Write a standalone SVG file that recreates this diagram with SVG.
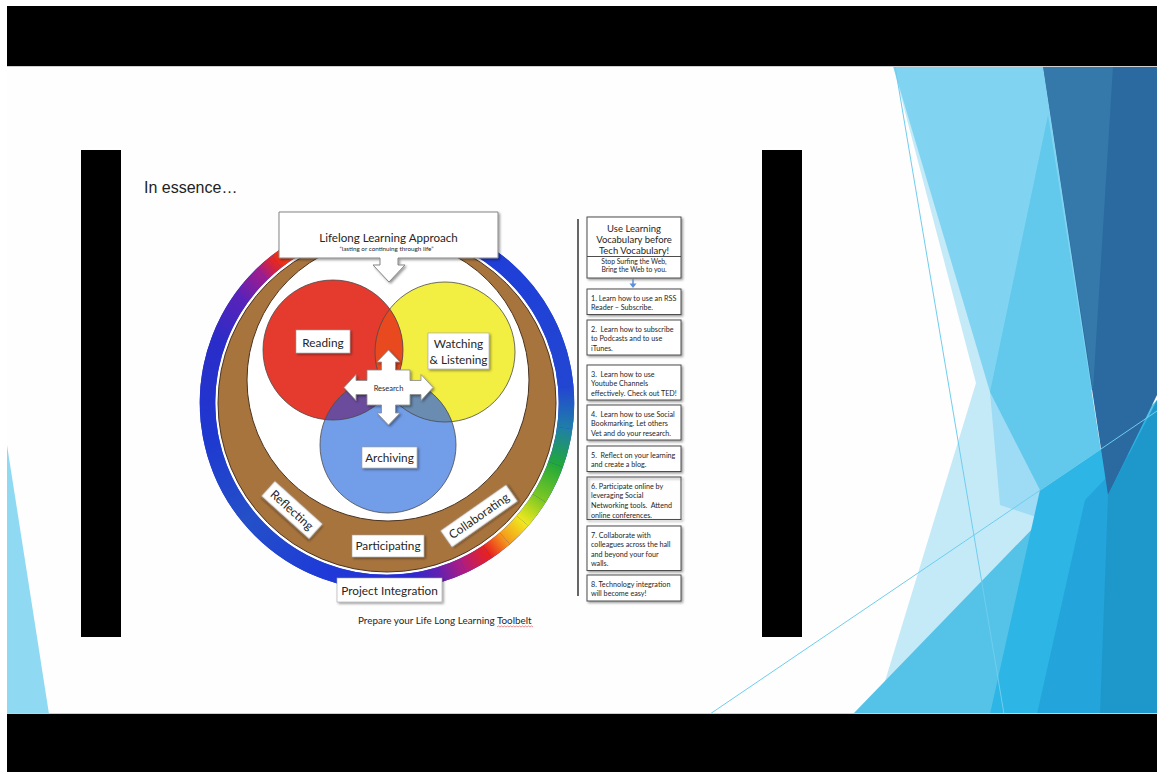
<svg xmlns="http://www.w3.org/2000/svg" width="1157" height="772" viewBox="0 0 1157 772">
<defs>
<style>
.t{font-family:Lato,"Noto Sans",sans-serif;fill:#262626}
.c{text-anchor:middle}
.box{fill:#fff;stroke:#4d4d4d;stroke-width:1}
.lb{fill:#fff;stroke:#a0a0a0;stroke-width:0.6}
.rb{fill:none;stroke-width:15.5}
.ol{fill:none;stroke:#4a4a4a;stroke-width:0.8}
.s{font-size:7.2px}
.v{font-size:11.8px}
</style>
<filter id="sh" x="-10%" y="-10%" width="130%" height="150%"><feDropShadow dx="1.5" dy="1.5" stdDeviation="0.9" flood-color="#000" flood-opacity="0.4"/></filter>
<clipPath id="cpY"><circle cx="445" cy="352" r="70"/></clipPath>
<clipPath id="cpB"><circle cx="388" cy="445" r="68"/></clipPath>
<linearGradient id="g0" gradientUnits="userSpaceOnUse" x1="387" y1="223.5" x2="502.38" y2="265.5"><stop offset="0" stop-color="#2a2fc8"/><stop offset="1" stop-color="#1f3fd8"/></linearGradient>
<linearGradient id="g1" gradientUnits="userSpaceOnUse" x1="502.38" y1="265.5" x2="565.82" y2="387.35"><stop offset="0" stop-color="#1f3fd8"/><stop offset="1" stop-color="#2246d2"/></linearGradient>
<linearGradient id="g2" gradientUnits="userSpaceOnUse" x1="565.82" y1="387.35" x2="564.75" y2="427.98"><stop offset="0" stop-color="#2246d2"/><stop offset="1" stop-color="#1f7fa8"/></linearGradient>
<linearGradient id="g3" gradientUnits="userSpaceOnUse" x1="564.75" y1="427.98" x2="555.68" y2="464.39"><stop offset="0" stop-color="#1f7fa8"/><stop offset="1" stop-color="#22a83a"/></linearGradient>
<linearGradient id="g4" gradientUnits="userSpaceOnUse" x1="555.68" y1="464.39" x2="539.22" y2="498.12"><stop offset="0" stop-color="#22a83a"/><stop offset="1" stop-color="#7cc823"/></linearGradient>
<linearGradient id="g5" gradientUnits="userSpaceOnUse" x1="539.22" y1="498.12" x2="522.47" y2="520.77"><stop offset="0" stop-color="#7cc823"/><stop offset="1" stop-color="#f0e81e"/></linearGradient>
<linearGradient id="g6" gradientUnits="userSpaceOnUse" x1="522.47" y1="520.77" x2="504.77" y2="538.47"><stop offset="0" stop-color="#f0e81e"/><stop offset="1" stop-color="#f59a1c"/></linearGradient>
<linearGradient id="g7" gradientUnits="userSpaceOnUse" x1="504.77" y1="538.47" x2="487.38" y2="551.81"><stop offset="0" stop-color="#f59a1c"/><stop offset="1" stop-color="#e8221e"/></linearGradient>
<linearGradient id="g8" gradientUnits="userSpaceOnUse" x1="487.38" y1="551.81" x2="462.86" y2="565.68"><stop offset="0" stop-color="#e8221e"/><stop offset="1" stop-color="#b01c80"/></linearGradient>
<linearGradient id="g9" gradientUnits="userSpaceOnUse" x1="462.86" y1="565.68" x2="439.49" y2="574.66"><stop offset="0" stop-color="#b01c80"/><stop offset="1" stop-color="#6420b0"/></linearGradient>
<linearGradient id="g10" gradientUnits="userSpaceOnUse" x1="439.49" y1="574.66" x2="411.98" y2="580.76"><stop offset="0" stop-color="#6420b0"/><stop offset="1" stop-color="#2b2ad0"/></linearGradient>
<linearGradient id="g11" gradientUnits="userSpaceOnUse" x1="411.98" y1="580.76" x2="325.61" y2="571.68"><stop offset="0" stop-color="#2b2ad0"/><stop offset="1" stop-color="#1e3ad8"/></linearGradient>
<linearGradient id="g12" gradientUnits="userSpaceOnUse" x1="325.61" y1="571.68" x2="249.5" y2="518.38"><stop offset="0" stop-color="#1e3ad8"/><stop offset="1" stop-color="#2450c8"/></linearGradient>
<linearGradient id="g13" gradientUnits="userSpaceOnUse" x1="249.5" y1="518.38" x2="210.23" y2="434.16"><stop offset="0" stop-color="#2450c8"/><stop offset="1" stop-color="#1e38d0"/></linearGradient>
<linearGradient id="g14" gradientUnits="userSpaceOnUse" x1="210.23" y1="434.16" x2="218.32" y2="341.61"><stop offset="0" stop-color="#1e38d0"/><stop offset="1" stop-color="#2a2cc8"/></linearGradient>
<linearGradient id="g15" gradientUnits="userSpaceOnUse" x1="218.32" y1="341.61" x2="241.78" y2="297.49"><stop offset="0" stop-color="#2a2cc8"/><stop offset="1" stop-color="#5a22b8"/></linearGradient>
<linearGradient id="g16" gradientUnits="userSpaceOnUse" x1="241.78" y1="297.49" x2="262.3" y2="273.89"><stop offset="0" stop-color="#5a22b8"/><stop offset="1" stop-color="#a01c8c"/></linearGradient>
<linearGradient id="g17" gradientUnits="userSpaceOnUse" x1="262.3" y1="273.89" x2="276.48" y2="261.55"><stop offset="0" stop-color="#a01c8c"/><stop offset="1" stop-color="#e8281c"/></linearGradient>
<linearGradient id="g18" gradientUnits="userSpaceOnUse" x1="276.48" y1="261.55" x2="297.25" y2="247.55"><stop offset="0" stop-color="#e8281c"/><stop offset="1" stop-color="#f05a14"/></linearGradient>
<linearGradient id="g19" gradientUnits="userSpaceOnUse" x1="297.25" y1="247.55" x2="387" y2="223.5"><stop offset="0" stop-color="#f05a14"/><stop offset="1" stop-color="#2a2fc8"/></linearGradient>
</defs>

<!-- slide background -->
<g id="background">
<rect width="1157" height="772" fill="#fff"/>
<rect x="7" y="66" width="1150" height="648" fill="#fefefe"/>
<polygon points="893,66 1000,66 1045,490 990,714 875,714 976,383" fill="#c4eaf8"/>
<polygon points="893,66 1043,66 1093,390 990,392" fill="#80d4f2"/>
<polygon points="990,392 1060,420 1045,520 1000,505" fill="#9ddcf4"/>
<polygon points="1048,115 1108,495 1040,490 990,392" fill="#62c8ec"/>
<polygon points="853,714 1157,400 1157,714" fill="#55c3e8"/>
<polygon points="990,714 1040,490 1157,411 1157,714" fill="#2db5e6"/>
<polygon points="1037,714 1085,500 1157,425 1157,714" fill="#23a5dc"/>
<polygon points="1043,66 1157,66 1157,395 1108,495" fill="#2a6aa0"/>
<polygon points="1043,66 1113,66 1093,390" fill="#3479a9"/>
<polygon points="1100,714 1108,495 1157,400 1157,714" fill="#1e98cb"/>
<line x1="895" y1="66" x2="1004" y2="714" stroke="#6fcdee" stroke-width="1"/>
<line x1="710" y1="714" x2="1157" y2="411" stroke="#6fcdee" stroke-width="1"/>
<polygon points="7,445 49,714 7,714" fill="#8fd9f2"/>
<rect x="7" y="6" width="1150" height="60" fill="#000"/>
<rect x="7" y="714" width="1150" height="58" fill="#000"/>
<line x1="7" y1="66.5" x2="1157" y2="66.5" stroke="#cfcfcf" stroke-width="1"/>
<line x1="7" y1="713.5" x2="1157" y2="713.5" stroke="#cfcfcf" stroke-width="1"/>
<rect x="81" y="150" width="40" height="487" fill="#000"/>
<rect x="762" y="150" width="40" height="487" fill="#000"/>
</g>

<text class="t" x="144" y="193" style="font-family:'Liberation Sans',Arial,sans-serif;font-size:16px;fill:#222">In essence…</text>

<!-- rainbow ring -->
<g id="rainbow">
<circle cx="387" cy="403" r="179.5" class="rb" stroke="#2238d0"/>
<path class="rb" stroke="url(#g0)" d="M387,223.5 A179.5,179.5 0 0 1 502.38,265.5"/>
<path class="rb" stroke="url(#g1)" d="M502.38,265.5 A179.5,179.5 0 0 1 565.82,387.35"/>
<path class="rb" stroke="url(#g2)" d="M565.82,387.35 A179.5,179.5 0 0 1 564.75,427.98"/>
<path class="rb" stroke="url(#g3)" d="M564.75,427.98 A179.5,179.5 0 0 1 555.68,464.39"/>
<path class="rb" stroke="url(#g4)" d="M555.68,464.39 A179.5,179.5 0 0 1 539.22,498.12"/>
<path class="rb" stroke="url(#g5)" d="M539.22,498.12 A179.5,179.5 0 0 1 522.47,520.77"/>
<path class="rb" stroke="url(#g6)" d="M522.47,520.77 A179.5,179.5 0 0 1 504.77,538.47"/>
<path class="rb" stroke="url(#g7)" d="M504.77,538.47 A179.5,179.5 0 0 1 487.38,551.81"/>
<path class="rb" stroke="url(#g8)" d="M487.38,551.81 A179.5,179.5 0 0 1 462.86,565.68"/>
<path class="rb" stroke="url(#g9)" d="M462.86,565.68 A179.5,179.5 0 0 1 439.49,574.66"/>
<path class="rb" stroke="url(#g10)" d="M439.49,574.66 A179.5,179.5 0 0 1 411.98,580.76"/>
<path class="rb" stroke="url(#g11)" d="M411.98,580.76 A179.5,179.5 0 0 1 325.61,571.68"/>
<path class="rb" stroke="url(#g12)" d="M325.61,571.68 A179.5,179.5 0 0 1 249.5,518.38"/>
<path class="rb" stroke="url(#g13)" d="M249.5,518.38 A179.5,179.5 0 0 1 210.23,434.16"/>
<path class="rb" stroke="url(#g14)" d="M210.23,434.16 A179.5,179.5 0 0 1 218.32,341.61"/>
<path class="rb" stroke="url(#g15)" d="M218.32,341.61 A179.5,179.5 0 0 1 241.78,297.49"/>
<path class="rb" stroke="url(#g16)" d="M241.78,297.49 A179.5,179.5 0 0 1 262.3,273.89"/>
<path class="rb" stroke="url(#g17)" d="M262.3,273.89 A179.5,179.5 0 0 1 276.48,261.55"/>
<path class="rb" stroke="url(#g18)" d="M276.48,261.55 A179.5,179.5 0 0 1 297.25,247.55"/>
<path class="rb" stroke="url(#g19)" d="M297.25,247.55 A179.5,179.5 0 0 1 387,223.5"/>
</g>

<!-- brown ring and inner white -->
<g id="ring">
<circle cx="387" cy="403" r="169" fill="#a8743e" stroke="#4a3420" stroke-width="1"/>
<circle cx="388" cy="380" r="141" fill="#fff" stroke="#4a3420" stroke-width="1"/>
</g>

<!-- Venn -->
<g id="venn">
<circle cx="445" cy="352" r="70" fill="#f2ee42"/>
<circle cx="333" cy="350" r="70" fill="#e53b2f"/>
<circle cx="333" cy="350" r="70" fill="#e8491f" clip-path="url(#cpY)"/>
<circle cx="388" cy="445" r="68" fill="#729de8"/>
<circle cx="333" cy="350" r="70" fill="#6b4b9c" clip-path="url(#cpB)"/>
<circle cx="445" cy="352" r="70" fill="#6a8cb0" clip-path="url(#cpB)"/>
<circle cx="445" cy="352" r="70" class="ol"/>
<circle cx="333" cy="350" r="70" class="ol"/>
<circle cx="388" cy="445" r="68" class="ol"/>
</g>

<g id="reading">
<rect x="296" y="330" width="54" height="23" class="lb" filter="url(#sh)"/>
<text class="t c v" x="323" y="346.5">Reading</text>
</g>
<g id="watching">
<rect x="428" y="333" width="61" height="36" class="lb" filter="url(#sh)"/>
<text class="t c v" x="458.5" y="348">Watching</text>
<text class="t c v" x="458.5" y="364">&amp; Listening</text>
</g>
<g id="archiving">
<rect x="362" y="447" width="55" height="21" class="lb" filter="url(#sh)"/>
<text class="t c v" x="389.5" y="462">Archiving</text>
</g>
<g id="research">
<polygon points="388.5,350 400,362 395.5,362 395.5,370 410,370 410,380.5 421,380.5 421,374.5 433,387.5 421,400.5 421,394.5 410,394.5 410,405 395.5,405 395.5,413 400,413 388.5,425 377,413 381.5,413 381.5,405 367,405 367,394.5 356,394.5 356,400.5 344,387.5 356,374.5 356,380.5 367,380.5 367,370 381.5,370 381.5,362 377,362" fill="#fff" stroke="#8a8a8a" stroke-width="0.8" filter="url(#sh)"/>
<text class="t c" x="388.5" y="390.7" style="font-size:7.5px">Research</text>
</g>

<g id="reflecting" transform="translate(292,510) rotate(42)">
<rect x="-32" y="-10" width="64" height="20" class="lb" filter="url(#sh)"/>
<text class="t c" x="0" y="4.2" style="font-size:12px">Reflecting</text>
</g>
<g id="collaborating" transform="translate(479,516) rotate(-35)">
<rect x="-40" y="-10" width="80" height="20" class="lb" filter="url(#sh)"/>
<text class="t c" x="0" y="4.2" style="font-size:12px">Collaborating</text>
</g>
<g id="participating">
<rect x="352" y="535" width="72" height="22" class="lb" filter="url(#sh)"/>
<text class="t c v" x="388" y="550">Participating</text>
</g>
<g id="project-integration">
<rect x="337" y="578" width="105" height="24" class="lb" filter="url(#sh)"/>
<text class="t c v" x="389.5" y="594.5">Project Integration</text>
</g>

<g id="lifelong">
<path d="M279,212 H498 V258 H398 V265 H405 L389,282 L373,265 H380 V258 H279 Z" fill="#fff" stroke="#858585" stroke-width="1" filter="url(#sh)"/>
<text class="t c" x="388.5" y="241.7" style="font-size:11.6px">Lifelong Learning Approach</text>
<text class="t c" x="386.5" y="251" style="font-size:6.3px">“lasting or continuing through life”</text>
</g>

<g id="caption">
<text class="t" x="358" y="624" style="font-size:9.9px">Prepare your Life Long Learning Toolbelt</text>
<path d="M497,627 l1.5,-1 l1.5,1 l1.5,-1 l1.5,1 l1.5,-1 l1.5,1 l1.5,-1 l1.5,1 l1.5,-1 l1.5,1 l1.5,-1 l1.5,1 l1.5,-1 l1.5,1 l1.5,-1 l1.5,1 l1.5,-1 l1.5,1 l1.5,-1 l1.5,1 l1.5,-1 l1.5,1 l1.5,-1 l1.5,1" fill="none" stroke="#e06060" stroke-width="0.7"/>
</g>

<!-- right column -->
<g id="box0">
<rect x="587" y="217" width="94" height="61" class="box" filter="url(#sh)"/>
<line x1="587" y1="256.5" x2="681" y2="256.5" stroke="#4d4d4d" stroke-width="1"/>
<text class="t c" x="634" y="231.5" style="font-size:9.5px">Use Learning</text>
<text class="t c" x="634" y="242.5" style="font-size:9.5px">Vocabulary before</text>
<text class="t c" x="634" y="253.5" style="font-size:9.5px">Tech Vocabulary!</text>
<text class="t c" x="634" y="263.5" style="font-size:6.8px">Stop Surfing the Web,</text>
<text class="t c" x="634" y="272" style="font-size:6.8px">Bring the Web to you.</text>
</g>
<g id="box1">
<rect x="587" y="289" width="94" height="25.5" class="box" filter="url(#sh)"/>
<text class="t s" x="591" y="300.5">1. Learn how to use an RSS</text>
<text class="t s" x="591" y="310">Reader – Subscribe.</text>
</g>
<g id="box2">
<rect x="587" y="320" width="94" height="35" class="box" filter="url(#sh)"/>
<text class="t s" x="591" y="331.5">2.&#160; Learn how to subscribe</text>
<text class="t s" x="591" y="341">to Podcasts and to use</text>
<text class="t s" x="591" y="350.5">iTunes.</text>
</g>
<g id="box3">
<rect x="587" y="365" width="94" height="35" class="box" filter="url(#sh)"/>
<text class="t s" x="591" y="376.5">3.&#160; Learn how to use</text>
<text class="t s" x="591" y="386">Youtube Channels</text>
<text class="t s" x="591" y="395.5">effectively. Check out TED!</text>
</g>
<g id="box4">
<rect x="587" y="405" width="94" height="35" class="box" filter="url(#sh)"/>
<text class="t s" x="591" y="416.5">4.&#160; Learn how to use Social</text>
<text class="t s" x="591" y="426">Bookmarking. Let others</text>
<text class="t s" x="591" y="435.5">Vet and do your research.</text>
</g>
<g id="box5">
<rect x="587" y="446" width="94" height="25.5" class="box" filter="url(#sh)"/>
<text class="t s" x="591" y="457.5">5.&#160; Reflect on your learning</text>
<text class="t s" x="591" y="467">and create a blog.</text>
</g>
<g id="box6">
<text class="t s" x="591" y="488.5">6. Participate online by</text>
<text class="t s" x="591" y="498">leveraging Social</text>
<text class="t s" x="591" y="507.5">Networking tools.&#160; Attend</text>
<text class="t s" x="591" y="517.5">online conferences.</text>
<rect x="587" y="477" width="94" height="42.5" fill="none" stroke="#4d4d4d" stroke-width="1" filter="url(#sh)"/>
</g>
<g id="box7">
<rect x="587" y="526" width="94" height="44.5" class="box" filter="url(#sh)"/>
<text class="t s" x="591" y="537.5">7. Collaborate with</text>
<text class="t s" x="591" y="547">colleagues across the hall</text>
<text class="t s" x="591" y="556.5">and beyond your four</text>
<text class="t s" x="591" y="566">walls.</text>
</g>
<g id="box8">
<rect x="587" y="575" width="94" height="26" class="box" filter="url(#sh)"/>
<text class="t s" x="591" y="586.5">8. Technology integration</text>
<text class="t s" x="591" y="596">will become easy!</text>
</g>

<g id="connectors">
<line x1="578" y1="219" x2="578" y2="596" stroke="#333" stroke-width="1.5"/>
<line x1="633" y1="279" x2="633" y2="284.5" stroke="#5b8fd8" stroke-width="1.5"/>
<polygon points="629.5,283.5 636.5,283.5 633,288" fill="#5b8fd8"/>
</g>
</svg>
